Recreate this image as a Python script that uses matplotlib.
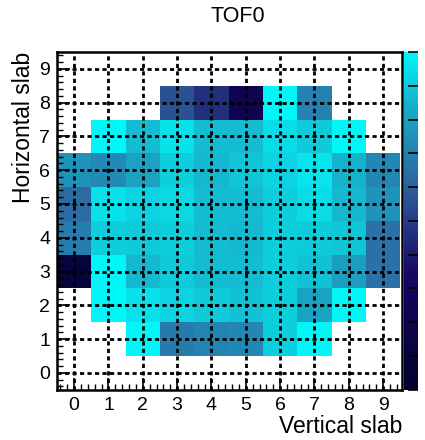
import numpy as np
import matplotlib
matplotlib.use("Agg")
import matplotlib.pyplot as plt
from matplotlib.colors import LinearSegmentedColormap

plt.rcParams['font.family'] = ['Liberation Sans', 'DejaVu Sans']

# slab indices
vertical_slabs = list(range(10))
horizontal_slabs = list(range(10))
tick_labels = [str(i) for i in range(10)]

# relative occupancy per cell (row = horizontal slab 0..9), nan = empty
row0 = [np.nan] * 10
row1 = [np.nan, np.nan, 1.00, 0.68, 0.71, 0.72, 0.91, 1.00, np.nan, np.nan]
row2 = [np.nan, 1.00, 0.95, 0.92, 0.90, 0.88, 0.91, 0.81, 1.00, np.nan]
row3 = [0.10, 1.00, 0.86, 0.90, 0.87, 0.87, 0.91, 0.88, 0.79, 0.65]
row4 = [0.69, 0.91, 0.90, 0.91, 0.87, 0.86, 0.91, 0.90, 0.89, 0.65]
row5 = [0.63, 0.95, 0.92, 0.93, 0.87, 0.87, 0.91, 0.94, 0.86, 0.76]
row6 = [0.76, 0.73, 0.80, 0.91, 0.86, 0.89, 0.92, 0.96, 0.85, 0.72]
row7 = [np.nan, 1.00, 0.87, 0.95, 0.87, 0.87, 0.94, 0.90, 1.00, np.nan]
row8 = [np.nan, np.nan, np.nan, 0.56, 0.46, 0.22, 1.00, 0.70, np.nan, np.nan]
row9 = [np.nan] * 10

z = np.ma.masked_invalid(np.array([row0, row1, row2, row3, row4,
                                   row5, row6, row7, row8, row9]))

# ROOT "deep sea" palette (51)
stops = [0.00, 0.34, 0.61, 0.84, 1.00]
red = [0.00, 0.09, 0.18, 0.09, 0.00]
green = [0.01, 0.02, 0.39, 0.68, 0.97]
blue = [0.17, 0.39, 0.62, 0.79, 0.97]
cmap = LinearSegmentedColormap.from_list(
    "deepsea", list(zip(stops, zip(red, green, blue))))

fig = plt.figure(figsize=(4.25, 4.4), dpi=100)
ax = fig.add_axes([0.134, 0.114, 0.812, 0.768])
cax = fig.add_axes([0.951, 0.114, 0.033, 0.768])

xe = np.arange(-0.5, 10.0, 1.0)
ye = np.arange(-0.5, 10.0, 1.0)
mesh = ax.pcolormesh(xe, ye, z, cmap=cmap, vmin=0, vmax=1)

ax.set_xlim(-0.5, 9.55)
ax.set_ylim(-0.5, 9.5)
ax.set_xticks(vertical_slabs)
ax.set_xticklabels(tick_labels)
ax.set_yticks(horizontal_slabs)
ax.set_yticklabels(tick_labels)
ax.set_xticks(np.arange(-0.4, 9.6, 0.2), minor=True)
ax.set_yticks(np.arange(-0.4, 9.6, 0.2), minor=True)
ax.tick_params(which='major', direction='in', length=9, width=1.2,
               labelsize=14, pad=5)
ax.tick_params(which='minor', direction='in', length=4, width=1)
ax.grid(True, color='black', linestyle=(0, (1.5, 1.2)), linewidth=2)
ax.set_axisbelow(False)
for s in ax.spines.values():
    s.set_linewidth(1.8)

ax.set_xlabel("Vertical slab", fontsize=16.5, loc='right', labelpad=1)
ax.set_ylabel("Horizontal slab", fontsize=16.5, loc='top', labelpad=3)
fig.text(0.56, 0.963, "TOF0", fontsize=15.5, ha='center', va='center')

cb = fig.colorbar(mesh, cax=cax)
cb.outline.set_visible(False)
cb.set_ticks(np.linspace(0, 1, 11))
cb.ax.tick_params(direction='in', length=7, width=1.2, labelright=False)

fig.savefig("out.png", dpi=100)
